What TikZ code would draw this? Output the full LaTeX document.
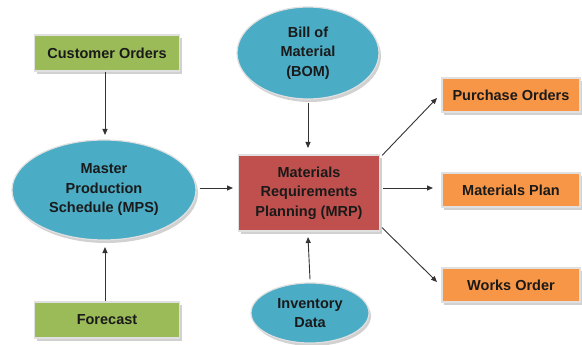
\documentclass[tikz,border=0pt]{standalone}
\usepackage{fontspec}
\setmainfont{Liberation Sans}
\usetikzlibrary{shapes.geometric,shadows,arrows.meta}
\definecolor{inpgreen}{HTML}{9BBB59}
\definecolor{ellblue}{HTML}{4BACC6}
\definecolor{mrpred}{HTML}{C0504D}
\definecolor{outorange}{HTML}{F79646}
\definecolor{txt}{HTML}{1A1A1A}
\tikzset{
  base/.style={font=\bfseries\fontsize{14.5}{19.5}\selectfont, text=txt, align=center,
    draw=white!88!black, line width=1.2pt,
    drop shadow={shadow xshift=2pt, shadow yshift=-3pt, fill=black, opacity=0.18}},
  inbox/.style={base, rectangle, fill=inpgreen, minimum width=145pt, minimum height=36pt},
  outbox/.style={base, rectangle, fill=outorange, minimum width=138pt, minimum height=34pt},
  mrpbox/.style={base, rectangle, fill=mrpred, minimum width=141pt, minimum height=76pt},
  blob/.style={base, ellipse, fill=ellblue, inner sep=0pt},
  conn/.style={-{Triangle[length=6pt,width=5pt]}, line width=0.9pt, draw=black!80}
}
\begin{document}
\begin{tikzpicture}[x=1pt,y=-1pt]
\useasboundingbox (0,0) rectangle (582,345);
\node[inbox] (cust) at (107,53) {Customer Orders};
\node[inbox] (fore) at (107,320) {Forecast};
\node[blob, minimum width=184pt, minimum height=100pt] (mps) at (104,190) {Master\\Production\\Schedule (MPS)};
\node[blob, minimum width=142pt, minimum height=92pt] (bom) at (308,53) {Bill of\\Material\\(BOM)};
\node[mrpbox] (mrp) at (309,193) {Materials\\Requirements\\Planning (MRP)};
\node[blob, minimum width=118pt, minimum height=60pt] (inv) at (310,313) {Inventory\\Data};
\node[outbox] (po) at (511,95) {Purchase Orders};
\node[outbox] (mp) at (511,190) {Materials Plan};
\node[outbox] (wo) at (511,285) {Works Order};

\draw[conn] (cust.south -| 105,0) -- (105,135);
\draw[conn] (fore.north -| 105,0) -- (105,247);
\draw[conn] (mps.east) ++(3,-2) -- (233,188);
\draw[conn] (bom.south) ++(0,3) -- (308,148);
\draw[conn] (inv.north) ++(0,-3) -- (308,237);
\draw[conn] (mrp.north east) ++(2,1) -- (437,98);
\draw[conn] (mrp.east) ++(3,-5) -- (433,188);
\draw[conn] (mrp.south east) ++(2,-4) -- (437,282);
\end{tikzpicture}
\end{document}
